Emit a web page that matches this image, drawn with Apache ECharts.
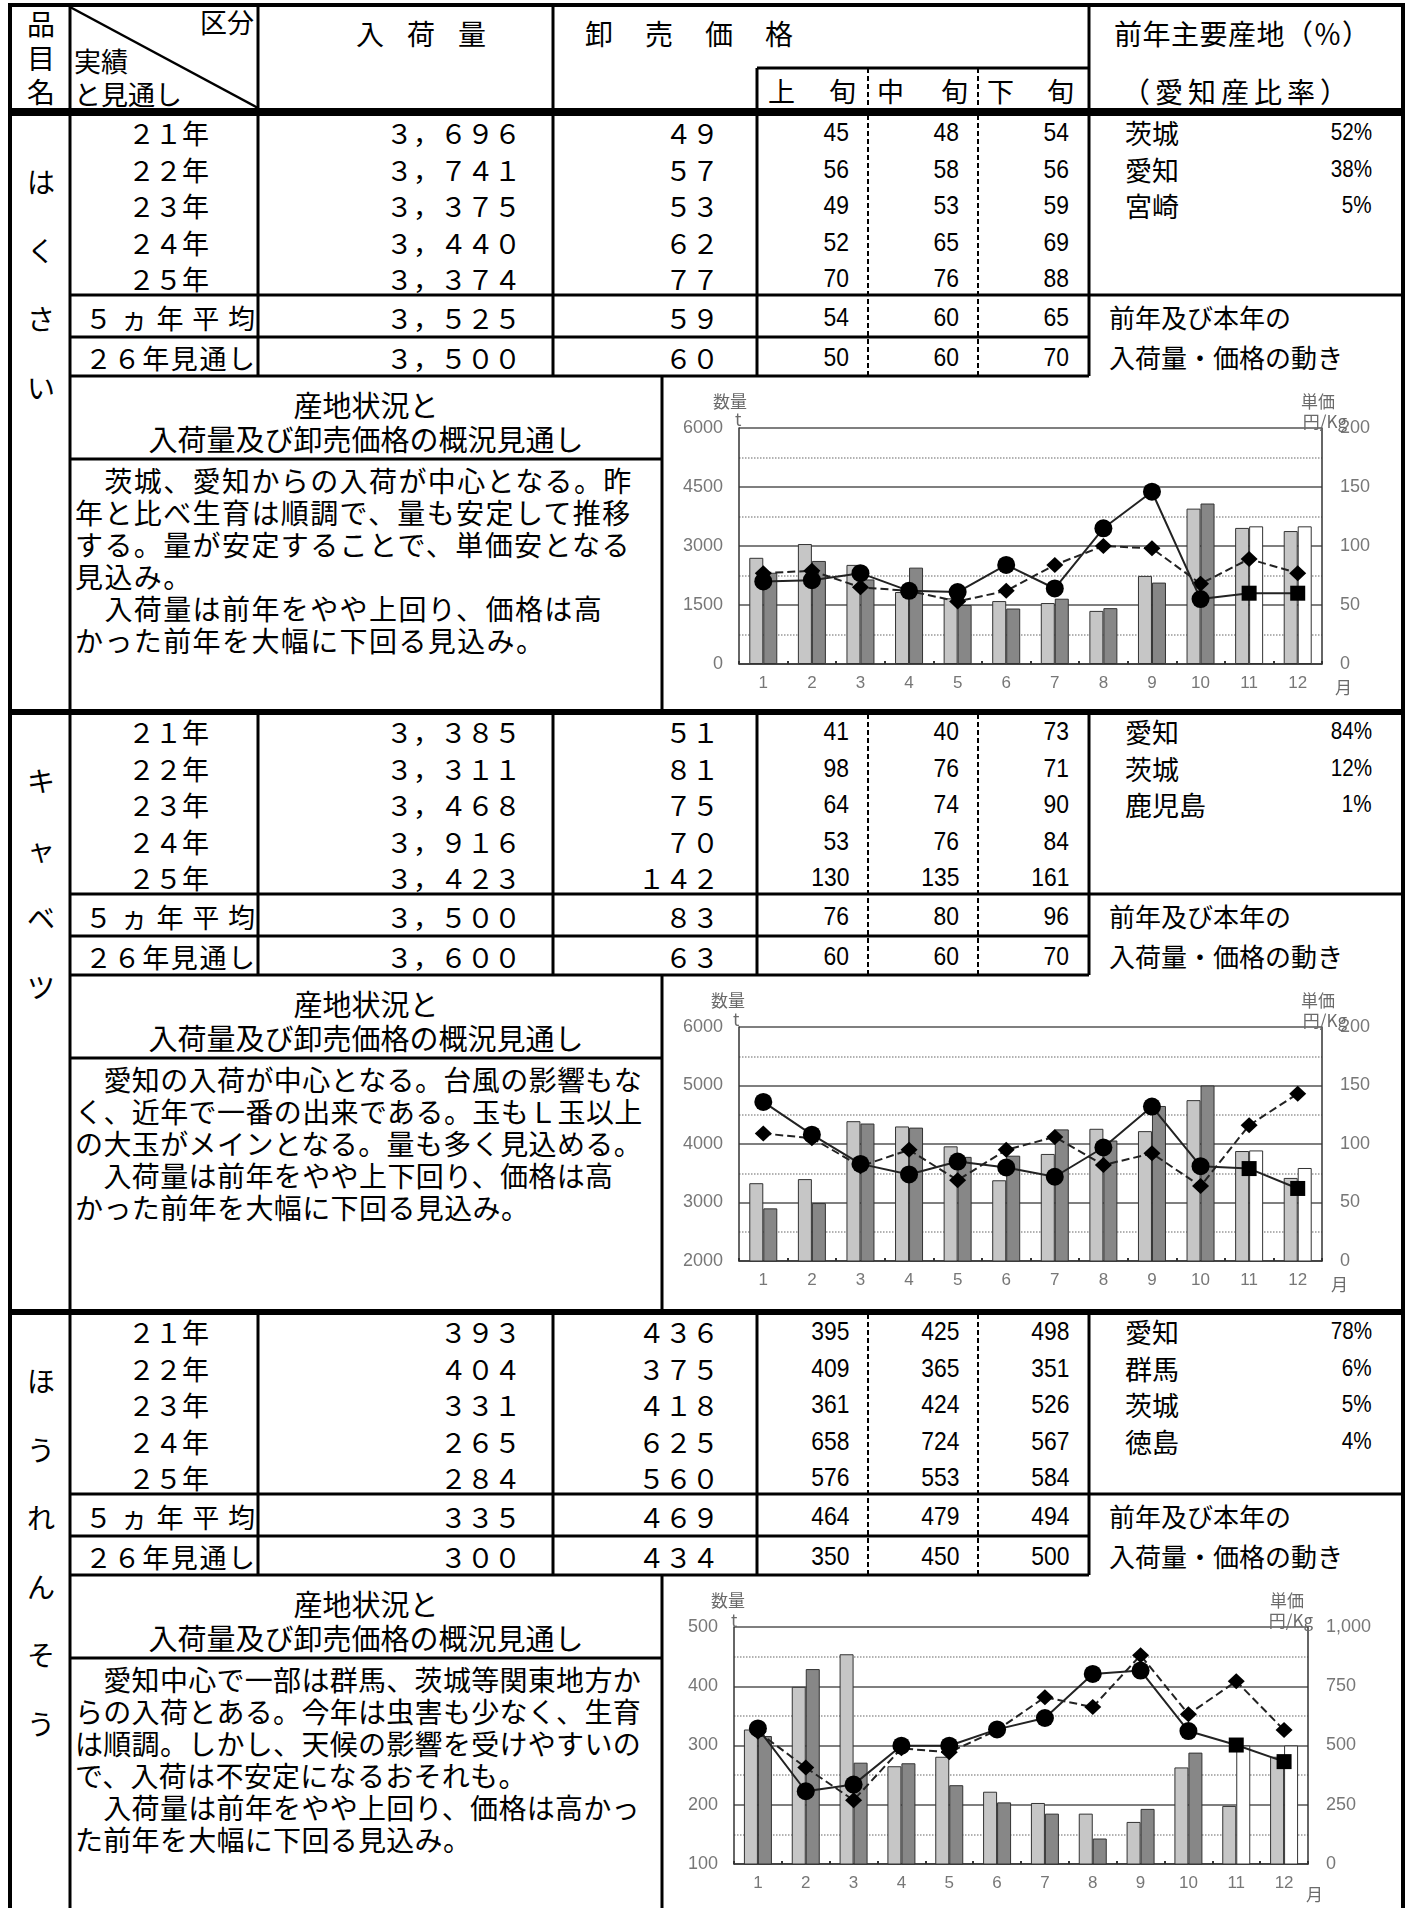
<!DOCTYPE html>
<html><head><meta charset="utf-8">
<script src="https://cdn.jsdelivr.net/npm/echarts@6/dist/echarts.min.js"></script>
<style>
body{margin:0;background:#fff;}
#page{position:relative;width:1412px;height:1908px;overflow:hidden;background:#fff;}
.t{position:absolute;white-space:pre;color:#000;}
.c{position:absolute;}
</style></head><body><div id="page"></div>
<script>
// ---------- table data ----------
const rowLabels = ['２１年','２２年','２３年','２４年','２５年','５ヵ年平均','２６年見通し'];

const hakusaiName = 'はくさい';
const hakusaiQty = [3696,3741,3375,3440,3374,3525,3500];
const hakusaiPrice = [49,57,53,62,77,59,60];
const hakusaiEarly = [45,56,49,52,70,54,50];
const hakusaiMid = [48,58,53,65,76,60,60];
const hakusaiLate = [54,56,59,69,88,65,70];
const hakusaiOrigins = ['茨城','愛知','宮崎'];
const hakusaiShares = [52,38,5];
const hakusaiText = [
 '　茨城、愛知からの入荷が中心となる。昨',
 '年と比べ生育は順調で、量も安定して推移',
 'する。量が安定することで、単価安となる',
 '見込み。',
 '　入荷量は前年をやや上回り、価格は高',
 'かった前年を大幅に下回る見込み。'];

const cabbageName = 'キャベツ';
const cabbageQty = [3385,3311,3468,3916,3423,3500,3600];
const cabbagePrice = [51,81,75,70,142,83,63];
const cabbageEarly = [41,98,64,53,130,76,60];
const cabbageMid = [40,76,74,76,135,80,60];
const cabbageLate = [73,71,90,84,161,96,70];
const cabbageOrigins = ['愛知','茨城','鹿児島'];
const cabbageShares = [84,12,1];
const cabbageText = [
 '　愛知の入荷が中心となる。台風の影響もな',
 'く、近年で一番の出来である。玉もＬ玉以上',
 'の大玉がメインとなる。量も多く見込める。',
 '　入荷量は前年をやや上下回り、価格は高',
 'かった前年を大幅に下回る見込み。'];

const spinachName = 'ほうれんそう';
const spinachQty = [393,404,331,265,284,335,300];
const spinachPrice = [436,375,418,625,560,469,434];
const spinachEarly = [395,409,361,658,576,464,350];
const spinachMid = [425,365,424,724,553,479,450];
const spinachLate = [498,351,526,567,584,494,500];
const spinachOrigins = ['愛知','群馬','茨城','徳島'];
const spinachShares = [78,6,5,4];
const spinachText = [
 '　愛知中心で一部は群馬、茨城等関東地方か',
 'らの入荷とある。今年は虫害も少なく、生育',
 'は順調。しかし、天候の影響を受けやすいの',
 'で、入荷は不安定になるおそれも。',
 '　入荷量は前年をやや上回り、価格は高かっ',
 'た前年を大幅に下回る見込み。'];

// ---------- chart data ----------
const months = ['1','2','3','4','5','6','7','8','9','10','11','12'];
const forecastFrom = 10; // index of first forecast month (11月)

const hakusaiPrevQty = [2700,3050,2520,1830,1670,1600,1550,1350,2240,3950,3460,3380];
const hakusaiCurQty  = [2320,2620,2150,2450,1500,1410,1660,1420,2070,4080,3500,3500];
const hakusaiPrevPrice = [77,79,65,62,53,62,84,100,98,68,89,77];
const hakusaiCurPrice  = [70,71,77,62,61,84,64,115,146,55,60,60];

const cabbagePrevQty = [3330,3400,4390,4300,3960,3380,3830,4260,4220,4750,3880,3420];
const cabbageCurQty  = [2900,2990,4350,4280,3780,3800,4250,4060,4650,5000,3890,3590];
const cabbagePrevPrice = [109,105,81,95,69,95,106,82,92,64,116,143];
const cabbageCurPrice  = [136,108,83,74,85,80,72,97,132,81,79,62];

const spinachPrevQty = [327,399,454,265,281,222,203,185,171,263,198,281];
const spinachCurQty  = [316,429,271,270,233,204,185,143,193,288,300,300];
const spinachPrevPrice = [558,407,269,488,471,565,704,662,881,632,771,565];
const spinachCurPrice  = [572,307,335,499,499,568,616,802,816,561,502,432];

// ---------- layout ----------
const W = 1412, H = 1908;
const CJK = '"Noto Sans CJK JP","Noto Sans CJK SC",sans-serif';
const LAT = '"Liberation Sans",Arial,sans-serif';
const XL = 10, C1 = 70, C2 = 258, C3 = 553, C4 = 757, C5 = 868, C6 = 978, C7 = 1089, XR = 1403, CH = 662;
const SEC = [113, 712, 1312];
const ROWY = [19, 56, 92, 129, 165, 204, 244];
const page = document.getElementById('page');

function fw(s){ return String(s).replace(/[0-9]/g, c => String.fromCharCode(c.charCodeAt(0)+0xFEE0)).replace(/,/g,'，'); }

function T(x, y, s, o) {
  o = o || {};
  const fs = o.fs || 27, lh = fs + 8;
  const d = document.createElement('div');
  d.className = 't';
  d.textContent = s;
  let css = `font-family:${o.ff || CJK};font-size:${fs}px;line-height:${lh}px;top:${(y - lh/2).toFixed(1)}px;`;
  if (o.ls) css += `letter-spacing:${o.ls}px;`;
  if (o.a === 'right') css += `right:${W - x - (o.ls||0)}px;text-align:right;`;
  else if (o.a === 'center') css += `left:${x-400}px;width:800px;text-align:center;`;
  else if (o.a === 'justify') css += `left:${x}px;width:${o.w}px;text-align:justify;text-align-last:justify;`;
  else css += `left:${x}px;`;
  if (o.sx) css += `transform:scaleX(${o.sx});transform-origin:${o.a==='right'?'right':'left'} center;`;
  d.style.cssText = css;
  page.appendChild(d);
}

let svg = '';
function L(x1,y1,x2,y2,w,dash){ svg += `<line x1="${x1}" y1="${y1}" x2="${x2}" y2="${y2}" stroke="#000" stroke-width="${w}"${dash?` stroke-dasharray="${dash}"`:''}/>`; }

// ---------- sections ----------
const sections = [
 {name:hakusaiName, qty:hakusaiQty, price:hakusaiPrice, early:hakusaiEarly, mid:hakusaiMid, late:hakusaiLate, origins:hakusaiOrigins, shares:hakusaiShares, text:hakusaiText, ls:1.4,
  prevQty:hakusaiPrevQty, curQty:hakusaiCurQty, prevPrice:hakusaiPrevPrice, curPrice:hakusaiCurPrice,
  ax:{lMin:0,lMax:6000,lInt:1500,rMax:200,rInt:50}, grid:[76,50,583,236], lab:{qx:50,qy:24,ty:42,tx:72,ux:672,kx:684,ky:44,mx:672,my:310}},
 {name:cabbageName, qty:cabbageQty, price:cabbagePrice, early:cabbageEarly, mid:cabbageMid, late:cabbageLate, origins:cabbageOrigins, shares:cabbageShares, text:cabbageText, ls:0.4,
  prevQty:cabbagePrevQty, curQty:cabbageCurQty, prevPrice:cabbagePrevPrice, curPrice:cabbageCurPrice,
  ax:{lMin:2000,lMax:6000,lInt:1000,rMax:200,rInt:50}, grid:[76,50,583,234], lab:{qx:48,qy:24,ty:43,tx:70,ux:672,kx:684,ky:44,mx:668,my:308}},
 {name:spinachName, qty:spinachQty, price:spinachPrice, early:spinachEarly, mid:spinachMid, late:spinachLate, origins:spinachOrigins, shares:spinachShares, text:spinachText, ls:0.3,
  prevQty:spinachPrevQty, curQty:spinachCurQty, prevPrice:spinachPrevPrice, curPrice:spinachCurPrice,
  ax:{lMin:100,lMax:500,lInt:100,rMax:1000,rInt:250}, grid:[71,50,574,237], lab:{qx:48,qy:24,ty:44,tx:68,ux:641,kx:650,ky:44,mx:643,my:318}}
];

// header
L(XL-2,5,XR+2,5,4); L(XL,3,XL,H,4); L(XR,3,XR,H,4);
L(C1,5,C1,H,3);
L(C2,5,C2,111,3); L(C3,5,C3,111,3); L(C7,5,C7,111,3);
L(C4,68,C4,111,3); L(C5,68,C5,111,2,'5,3'); L(C6,68,C6,111,2,'5,3');
L(C4,68,C7,68,3);
L(C1,7,C2,108,2.5);
L(XL,111,XR,111,6);
T(41,23,'品',{a:'center',fs:28}); T(41,57,'目',{a:'center',fs:28}); T(41,91,'名',{a:'center',fs:28});
T(254,21,'区分',{a:'right',fs:27});
T(74,60,'実績',{fs:27}); T(74,93,'と見通し',{fs:27});
T(356,33,'入荷量',{fs:28,ls:23});
T(585,33,'卸売価格',{fs:28,ls:32});
T(1114,33,'前年主要産地（％）',{fs:28,ls:0.5});
T(1122,91,'（愛知産比率）',{fs:28,ls:5});
T(768,90,'上旬',{a:'justify',w:88,fs:27});
T(877,90,'中旬',{a:'justify',w:91,fs:27});
T(987,90,'下旬',{a:'justify',w:87,fs:27});

sections.forEach((sec, k) => {
  const S = SEC[k];
  const SN = k < 2 ? SEC[k+1] : H;
  L(XL,S,XR,S,6);
  [C2,C3,C4,C7].forEach(x => L(x,S,x,S+263,3));
  [C5,C6].forEach(x => L(x,S+2,x,S+263,2,'5,3'));
  L(C1,S+182,XR,S+182,3); L(C1,S+224,C7,S+224,3); L(C1,S+263,C7,S+263,3);
  L(C1,S+346,CH,S+346,3); L(CH,S+263,CH,SN,3);

  [...sec.name].forEach((ch,i) => T(41, S+68+68.5*i, ch, {a:'center',fs:28}));
  rowLabels.forEach((lab,i) => {
    const y = S + ROWY[i];
    if (i < 5) T(128, y, lab, {fs:27});
    else T(85, y, lab, {a:'justify', w:170, fs:27});
    T(521, y, fw(sec.qty[i].toLocaleString('en-US')), {a:'right',fs:27});
    T(719, y, fw(sec.price[i]), {a:'right',fs:27});
    T(849, y, String(sec.early[i]), {a:'right',ff:LAT,fs:26,sx:0.88});
    T(959, y, String(sec.mid[i]), {a:'right',ff:LAT,fs:26,sx:0.88});
    T(1069, y, String(sec.late[i]), {a:'right',ff:LAT,fs:26,sx:0.88});
  });
  sec.origins.forEach((o,i) => {
    T(1125, S+ROWY[i], o, {fs:27});
    T(1372, S+ROWY[i], sec.shares[i]+'%', {a:'right',ff:LAT,fs:24,sx:0.86});
  });
  T(1109, S+204, '前年及び本年の', {fs:26});
  T(1109, S+244, '入荷量・価格の動き', {fs:26});
  T(366, S+291, '産地状況と', {a:'center',fs:29});
  T(366, S+325, '入荷量及び卸売価格の概況見通し', {a:'center',fs:29});
  sec.text.forEach((ln,j) => T(75, S+367+32*j, ln, {fs:28, ls:sec.ls}));

  // chart
  const div = document.createElement('div');
  div.className = 'c';
  const ct = S + 265;
  div.style.cssText = `left:663px;top:${ct}px;width:740px;height:${Math.min(334, H-ct)}px;`;
  page.appendChild(div);
  const ch = echarts.init(div);
  const g = sec.grid, lb = sec.lab, ax = sec.ax;
  const txt = (x,y,s,al) => ({type:'text', x:x, y:y, z:100, style:{text:s, fill:'#6a6a6a', font:'17px "Noto Sans CJK JP"', align:al||'left', verticalAlign:'middle'}});
  ch.setOption({
    animation:false,
    grid:{left:g[0], top:g[1], width:g[2], height:g[3]},
    xAxis:{type:'category', data:months,
      axisLine:{lineStyle:{color:'#333',width:1.5}},
      axisTick:{show:true, inside:true, length:3, lineStyle:{color:'#333',width:2}},
      axisLabel:{color:'#777', fontSize:17, margin:11, fontFamily:'Liberation Sans'}},
    yAxis:[
      {type:'value', min:ax.lMin, max:ax.lMax, interval:ax.lInt,
       axisLine:{show:true, lineStyle:{color:'#333',width:1.5}}, axisTick:{show:false},
       axisLabel:{color:'#777', fontSize:18, margin:16, fontFamily:'Liberation Sans', formatter:v => String(v)},
       splitLine:{show:true, lineStyle:{color:'#555', width:1.5}},
       minorTick:{show:false, splitNumber:2},
       minorSplitLine:{show:true, lineStyle:{color:'#999', width:1.5, type:'dotted'}}},
      {type:'value', min:0, max:ax.rMax, interval:ax.rInt, position:'right',
       axisLine:{show:true, lineStyle:{color:'#333',width:1.5}}, axisTick:{show:false},
       axisLabel:{color:'#777', fontSize:18, margin:18, fontFamily:'Liberation Sans', formatter:v => v.toLocaleString('en-US')},
       splitLine:{show:false}}
    ],
    series:[
      {type:'bar', name:'前年数量', data:sec.prevQty, barWidth:14, barGap:'0%',
       itemStyle:{color:'#c6c6c6', borderColor:'#333', borderWidth:1}},
      {type:'bar', name:'本年数量', barWidth:14,
       data:sec.curQty.map((v,i) => i < forecastFrom ? v : {value:v, itemStyle:{color:'#ffffff'}}),
       itemStyle:{color:'#878787', borderColor:'#333', borderWidth:1}},
      {type:'line', name:'前年単価', yAxisIndex:1, data:sec.prevPrice,
       symbol:'diamond', symbolSize:[17,16], lineStyle:{color:'#222', width:2, type:'dashed'},
       itemStyle:{color:'#000'}, z:5},
      {type:'line', name:'本年単価', yAxisIndex:1,
       data:sec.curPrice.map((v,i) => i < forecastFrom ? {value:v, symbol:'circle', symbolSize:18} : {value:v, symbol:'rect', symbolSize:15}),
       lineStyle:{color:'#222', width:2}, itemStyle:{color:'#000'}, z:6}
    ],
    graphic:[
      txt(lb.qx, lb.qy, '数量'),
      txt(lb.tx, lb.ty, 't'),
      txt(lb.ux, lb.qy, '単価', 'right'),
      txt(lb.kx, lb.ky, '円/Kg', 'right'),
      txt(lb.mx, lb.my, '月')
    ]
  });
});

const s = document.createElementNS('http://www.w3.org/2000/svg','svg');
s.setAttribute('width', W); s.setAttribute('height', H);
s.style.cssText = 'position:absolute;left:0;top:0;pointer-events:none;';
s.innerHTML = svg;
page.appendChild(s);
</script></body></html>
